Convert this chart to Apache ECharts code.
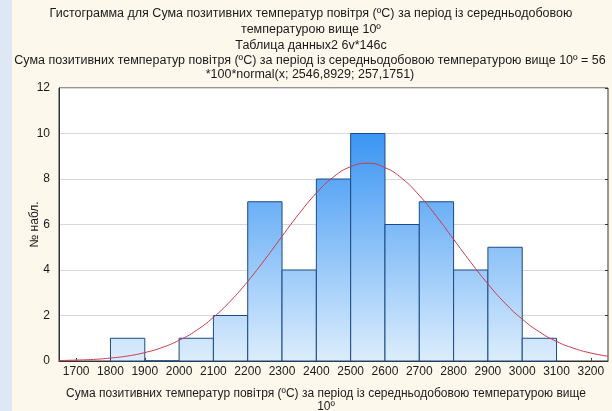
<!DOCTYPE html>
<html>
<head>
<meta charset="utf-8">
<script src="https://cdn.jsdelivr.net/npm/echarts@6/dist/echarts.min.js"></script>
<style>
  html, body { margin: 0; padding: 0; background: #fcf8ec; }
  #chart { width: 612px; height: 411px; }
</style>
</head>
<body>
<div id="chart"></div>
<script>
// Histogram bins (lower edge, upper edge) and observed counts
const binStarts = [1800, 1900, 2000, 2100, 2200, 2300, 2400, 2500, 2600, 2700, 2800, 2900, 3000];
const binEnds   = [1900, 2000, 2100, 2200, 2300, 2400, 2500, 2600, 2700, 2800, 2900, 3000, 3100];
const counts    = [1, 0, 1, 2, 7, 4, 8, 10, 6, 7, 4, 5, 1];

// Fitted normal curve, sampled every 50 units
const curveX = [1650, 1700, 1750, 1800, 1850, 1900, 1950, 2000, 2050, 2100, 2150, 2200, 2250, 2300,
                2350, 2400, 2450, 2500, 2550, 2600, 2650, 2700, 2750, 2800, 2850, 2900, 2950, 3000,
                3050, 3100, 3150, 3200, 3250];
const curveY = [0.02, 0.04, 0.07, 0.13, 0.22, 0.37, 0.59, 0.91, 1.34, 1.92, 2.64, 3.50, 4.46, 5.48,
                6.48, 7.38, 8.09, 8.54, 8.69, 8.50, 8.02, 7.28, 6.36, 5.35, 4.34, 3.39, 2.54, 1.84,
                1.28, 0.86, 0.56, 0.35, 0.21];

// Axis tick labels
const xTicks = [1700, 1800, 1900, 2000, 2100, 2200, 2300, 2400, 2500, 2600, 2700, 2800, 2900, 3000, 3100, 3200];
const yTicks = [0, 2, 4, 6, 8, 10, 12];

const FONT = '"Liberation Sans", Arial, sans-serif';
const TXT = '#1a1a1a';

const chart = echarts.init(document.getElementById('chart'), null, { renderer: 'canvas' });

const histData = binStarts.map((s, i) => [s, binEnds[i], counts[i]]);
const curveData = curveX.map((x, i) => [x, curveY[i]]);

const titleStyle = (lh) => ({ fontSize: 12.5, fontWeight: 'normal', color: TXT, fontFamily: FONT, lineHeight: lh });

const option = {
  backgroundColor: '#fcf8ec',
  animation: false,
  graphic: [
    { type: 'rect', left: 0, top: 0, shape: { width: 12, height: 411 }, style: { fill: '#dde8f4' }, z: -10 },
    {
      type: 'text', x: 326, y: 387,
      style: {
        text: 'Сума позитивних температур повітря (ºC) за період із середньодобовою температурою вище\n10º',
        font: '12px ' + FONT, fill: TXT, align: 'center', verticalAlign: 'top', lineHeight: 13
      }
    }
  ],
  title: [
    {
      text: 'Гистограмма для Сума позитивних температур повітря (ºC) за період із середньодобовою\nтемпературою вище 10º',
      left: 311, top: 6, textAlign: 'center', padding: 0,
      textStyle: titleStyle(15.5)
    },
    {
      text: 'Таблица данных2 6v*146c',
      left: 311, top: 38, textAlign: 'center', padding: 0,
      textStyle: titleStyle(15)
    },
    {
      text: 'Сума позитивних температур повітря (ºC) за період із середньодобовою температурою вище 10º = 56\n*100*normal(x; 2546,8929; 257,1751)',
      left: 310, top: 54, textAlign: 'center', padding: 0,
      textStyle: titleStyle(14)
    }
  ],
  grid: {
    left: 59, right: 4, top: 88, bottom: 50,
    show: true, backgroundColor: '#ffffff', borderColor: '#333333', borderWidth: 1
  },
  xAxis: [{
    type: 'value', min: 1650, max: 3250,
    axisLine: { show: true, onZero: false, lineStyle: { color: '#333' } },
    axisTick: { show: true, inside: true, length: 3, customValues: xTicks, lineStyle: { color: '#333' } },
    axisLabel: {
      customValues: xTicks, fontSize: 12, color: TXT, fontFamily: FONT, margin: 5,
      formatter: (v) => String(v)
    },
    splitLine: { show: false }
  }, {
    type: 'value', min: 1650, max: 3250, position: 'top',
    axisLine: { show: false },
    axisTick: { show: true, inside: false, length: 2, customValues: xTicks, lineStyle: { color: '#555' } },
    axisLabel: { show: false },
    splitLine: { show: false }
  }],
  yAxis: [{
    type: 'value', min: 0, max: 12, interval: 2,
    name: '№ набл.', nameLocation: 'middle', nameGap: 18, nameMoveOverlap: false,
    nameTextStyle: { fontSize: 12, color: TXT, fontFamily: FONT },
    axisLine: { show: true, lineStyle: { color: '#333' } },
    axisTick: { show: false },
    axisLabel: { fontSize: 12, color: TXT, fontFamily: FONT, margin: 9, formatter: (v) => String(v) },
    splitLine: { show: true, lineStyle: { color: '#d8d8d8', width: 1 } }
  }, {
    type: 'value', min: 0, max: 12, interval: 2, position: 'right',
    axisLine: { show: false },
    axisTick: { show: true, inside: true, length: 3, lineStyle: { color: '#333' } },
    axisLabel: { show: false },
    splitLine: { show: false }
  }],
  series: [
    {
      type: 'custom',
      data: histData,
      encode: { x: [0, 1], y: 2 },
      renderItem: function (params, api) {
        const x0 = api.value(0), x1 = api.value(1), c = api.value(2);
        const p0 = api.coord([x0, c]);
        const p1 = api.coord([x1, 0]);
        const top = api.coord([x0, 12])[1];
        const fill = new echarts.graphic.LinearGradient(0, top, 0, p1[1], [
          { offset: 0, color: '#1b84f2' },
          { offset: 1, color: '#dcedfc' }
        ], true);
        return {
          type: 'rect',
          shape: { x: p0[0], y: p0[1], width: p1[0] - p0[0], height: p1[1] - p0[1] },
          style: { fill: fill, stroke: '#1c4a82', lineWidth: 1 }
        };
      },
      z: 2
    },
    {
      type: 'line',
      data: curveData,
      smooth: true,
      showSymbol: false,
      symbol: 'none',
      lineStyle: { color: '#c83a4c', width: 1 },
      z: 3
    }
  ]
};

chart.setOption(option);
</script>
</body>
</html>
